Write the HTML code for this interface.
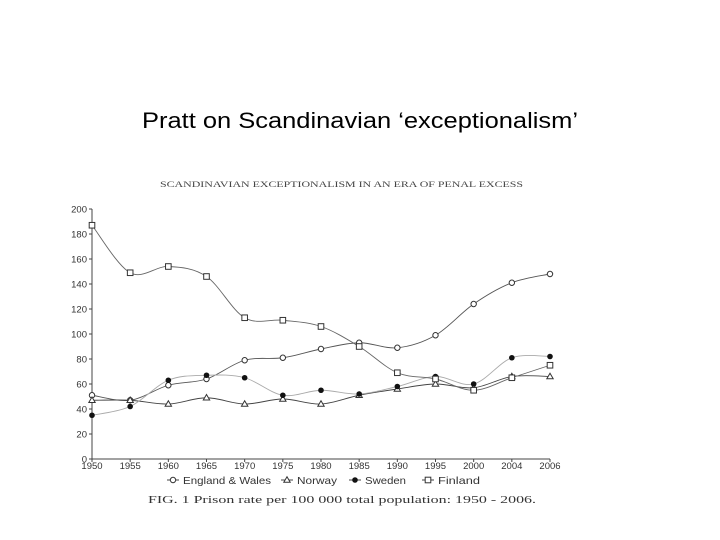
<!DOCTYPE html>
<html><head><meta charset="utf-8"><style>
html,body{margin:0;padding:0;background:#fff;width:720px;height:540px;overflow:hidden}
svg{display:block}
</style></head><body>
<svg id="chart" width="720" height="540" viewBox="0 0 720 540" xmlns="http://www.w3.org/2000/svg">
<text x="142" y="128" font-family="Liberation Sans, sans-serif" font-size="22" textLength="436" lengthAdjust="spacingAndGlyphs" fill="#000">Pratt on Scandinavian ‘exceptionalism’</text>
<text x="160" y="187" font-family="Liberation Serif, serif" font-size="8" textLength="363" lengthAdjust="spacingAndGlyphs" fill="#444">SCANDINAVIAN EXCEPTIONALISM IN AN ERA OF PENAL EXCESS</text>
<g id="plot"></g>
<text x="148" y="503" font-family="Liberation Serif, serif" font-size="11" textLength="388" lengthAdjust="spacingAndGlyphs" fill="#333">FIG. 1 Prison rate per 100 000 total population: 1950 - 2006.</text>
</svg>
<script>
const categories=["1950","1955","1960","1965","1970","1975","1980","1985","1990","1995","2000","2004","2006"];
const englandWales=[51,47,59,64,79,81,88,93,89,99,124,141,148];
const norway=[47,47,44,49,44,48,44,51,56,60,57,66,66];
const sweden=[35,42,63,67,65,51,55,52,58,66,60,81,82];
const finland=[187,149,154,146,113,111,106,90,69,64,55,65,75];
const yTicks=[0,20,40,60,80,100,120,140,160,180,200];
const NS="http://www.w3.org/2000/svg";
const g=document.getElementById('plot');
const x0=92,x1=550,yB=459,yT=209;
const xs=i=>x0+i*(x1-x0)/(categories.length-1);
const ys=v=>yB-(v/200)*(yB-yT);
function mk(t,a){const e=document.createElementNS(NS,t);for(const k in a)e.setAttribute(k,a[k]);g.appendChild(e);return e;}
let e=mk('line',{x1:x0,y1:yT,x2:x0,y2:yB,stroke:'#444','stroke-width':1});

e=mk('line',{x1:x0,y1:yB,x2:x1,y2:yB,stroke:'#444','stroke-width':1});

yTicks.forEach(v=>{
 mk('line',{x1:x0-3,y1:ys(v),x2:x0,y2:ys(v),stroke:'#444'});
 const t=mk('text',{x:x0-5,y:ys(v)+3.5,'text-anchor':'end','font-family':'Liberation Sans, sans-serif','font-size':9.5,fill:'#333'});
 t.textContent=v;
 
});
categories.forEach((c,i)=>{
 mk('line',{x1:xs(i),y1:yB,x2:xs(i),y2:yB+3,stroke:'#444'});
 const t=mk('text',{x:xs(i),y:yB+10,'text-anchor':'middle','font-family':'Liberation Sans, sans-serif','font-size':9.5,fill:'#333'});
 t.textContent=c;
 
});
function curve(vals){
 const p=vals.map((v,i)=>[xs(i),ys(v)]);
 let d='M'+p[0][0]+','+p[0][1];
 for(let i=0;i<p.length-1;i++){
  const a=p[Math.max(i-1,0)],b=p[i],c=p[i+1],dd=p[Math.min(i+2,p.length-1)];
  const c1=[b[0]+(c[0]-a[0])/6,b[1]+(c[1]-a[1])/6],c2=[c[0]-(dd[0]-b[0])/6,c[1]-(dd[1]-b[1])/6];
  d+=' C'+c1+' '+c2+' '+c;
 }
 return d;
}
function marker(type,x,y,name){
 let m;
 if(type==='circle')m=mk('circle',{cx:x,cy:y,r:2.7,fill:'#fff',stroke:'#333'});
 else if(type==='dot')m=mk('circle',{cx:x,cy:y,r:2.8,fill:'#111'});
 else if(type==='tri')m=mk('path',{d:`M${x},${y-3.2}L${x+3.2},${y+2.3}L${x-3.2},${y+2.3}Z`,fill:'#fff',stroke:'#333'});
 else m=mk('rect',{x:x-2.8,y:y-2.8,width:5.6,height:5.6,fill:'#fff',stroke:'#333'});
 
}
const series=[[englandWales,'circle','#555','england-wales'],[norway,'tri','#444','norway'],[sweden,'dot','#aaa','sweden'],[finland,'sq','#666','finland']];
series.forEach(([vals,type,col,name])=>{
 const l=mk('path',{d:curve(vals),fill:'none',stroke:col,'stroke-width':0.9});
 
 vals.forEach((v,i)=>marker(type,xs(i),ys(v),name+'-point'));
});
const leg=[['England & Wales','circle',173,'legend-england-wales',88],['Norway','tri',287,'legend-norway',40],['Sweden','dot',355,'legend-sweden',41],['Finland','sq',428,'legend-finland',42]];
leg.forEach(([lab,type,x,name,w])=>{
 mk('line',{x1:x-6,y1:480,x2:x+6,y2:480,stroke:'#444'});
 marker(type,x,480,name+'-marker');
 const t=mk('text',{x:x+10,y:484,'font-family':'Liberation Sans, sans-serif','font-size':10.5,fill:'#333',textLength:w,lengthAdjust:'spacingAndGlyphs'});
 t.textContent=lab;
 
});
</script>
</body></html>
